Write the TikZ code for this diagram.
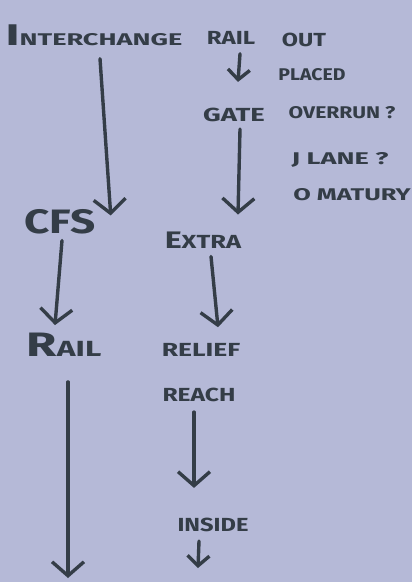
\documentclass[tikz,border=0pt]{standalone}
\usepackage{fontspec}
\setsansfont{Fira Sans}
\usepackage{xcolor}
\usepackage{graphicx}
\usetikzlibrary{positioning,calc,arrows.meta}
\definecolor{paper}{RGB}{181,185,215}
\definecolor{pen}{RGB}{52,61,71}
\newcommand{\penwide}[2][1.4]{\scalebox{#1}[1]{#2}}

\tikzset{
  hand/.style={text=pen, inner sep=0pt, font=\sffamily\bfseries},
  bigword/.style={hand, font=\sffamily\bfseries\fontsize{34}{34}\selectfont},
  word/.style={hand, font=\sffamily\bfseries\fontsize{19}{19}\selectfont},
  note/.style={hand, font=\sffamily\bfseries\fontsize{17}{17}\selectfont},
  flow/.style={draw=pen, line width=3.4pt, line cap=round,
    -{Straight Barb[length=14pt, width=32pt, line width=3.4pt]}},
  smallflow/.style={flow, -{Straight Barb[length=10pt, width=22pt, line width=3.4pt]}},
}

\begin{document}
\begin{tikzpicture}[x=1bp, y=1bp]
    \fill[paper] (0,0) rectangle (412,-582);
    \useasboundingbox (0,0) rectangle (412,-582);

    % Top line
    \node[word] (inter) at (94,-35) {\penwide[1.6]{\fontsize{30}{30}\selectfont I\fontsize{17}{17}\selectfont NTERCHANGE}};
    \node[word] (railtop) at (231,-38) {\penwide[1.27]{RAIL}};
    \node[word] (out) at (304,-40) {\penwide[1.24]{OUT}};

    % Questions on the right
    \node[note] (placed) at (312,-75) {\penwide[1.15]{PLACED}};
    \node[word] (gate) at (234,-115) {\penwide[1.45]{GATE}};
    \node[note] (overrun) at (342,-113) {\penwide[1.25]{OVERRUN ?}};
    \node[note] (jlane) at (340,-160) {\penwide[1.6]{J LANE ?}};
    \node[note] (omat) at (352,-195) {\penwide[1.5]{O MATURY}};

    % Middle rows
    \node[bigword] (cfs) at (60,-222) {\penwide[1.3]{CFS}};
    \node[word] (extra) at (203,-240) {\penwide[1.35]{\fontsize{24}{24}\selectfont E\fontsize{19}{19}\selectfont XTRA}};
    \node[bigword] (rail) at (64,-345) {\penwide[1.45]{R\fontsize{22}{22}\selectfont AIL}};
    \node[word] (relief) at (201,-350) {\penwide[1.4]{RELIEF}};
    \node[word] (reach) at (199,-395) {\penwide[1.3]{REACH}};
    \node[word] (inside) at (213,-525) {\penwide[1.25]{INSIDE}};

    % Ends of the open arrows
    \coordinate (leftend) at (68,-578);
    \coordinate (insideend) at (198,-568);

    % Arrows
    \draw[flow] ([shift={(6,-13)}]inter.south) -- ([shift={(15,-6)}]cfs.north east);
    \draw[smallflow] ([shift={(9,-9)}]railtop.south) -- ([shift={(4,26)}]gate.north);
    \draw[flow] ([shift={(6,-7)}]gate.south) -- ([shift={(4,17)}]gate.south |- extra.north);
    \draw[flow] ([shift={(2,-6)}]cfs.south) -- ([shift={(-5,8)}]cfs.south |- rail.north);
    \draw[flow] ([shift={(8,-8)}]extra.south) -- ([shift={(17,16)}]relief.north);
    \draw[flow] ([shift={(4,-25)}]rail.south) -- (leftend);
    \draw[flow] ([shift={(-5,-10)}]reach.south) -- ([shift={(-19,30)}]inside.north);
    \draw[smallflow] ([shift={(-14,-9)}]inside.south) -- (insideend);
\end{tikzpicture}
\end{document}
